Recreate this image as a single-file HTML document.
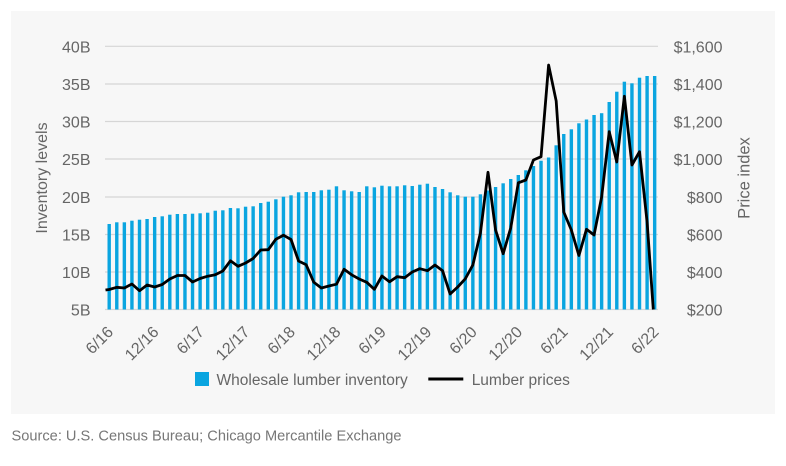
<!DOCTYPE html>
<html><head><meta charset="utf-8"><style>
html,body{margin:0;padding:0;background:#fff;}
svg{display:block;}
text{font-family:"Liberation Sans",sans-serif;fill:#666;}
</style></head><body>
<svg width="786" height="466" viewBox="0 0 786 466" xmlns="http://www.w3.org/2000/svg">
<rect x="0" y="0" width="786" height="466" fill="#fff"/>
<rect x="11" y="11" width="764" height="403" fill="#f7f7f7"/>
<g stroke="#d6d6d6" stroke-width="1.2">
<line x1="105" y1="46.3" x2="658" y2="46.3"/>
<line x1="105" y1="84" x2="658" y2="84"/>
<line x1="105" y1="121.5" x2="658" y2="121.5"/>
<line x1="105" y1="159" x2="658" y2="159"/>
<line x1="105" y1="197" x2="658" y2="197"/>
<line x1="105" y1="234.5" x2="658" y2="234.5"/>
<line x1="105" y1="272" x2="658" y2="272"/>
<line x1="105" y1="309.5" x2="658" y2="309.5"/>
</g>
<g fill="#0aa5e0">
<rect x="107.50" y="224" width="3.4" height="85.5"/>
<rect x="115.08" y="222.3" width="3.4" height="87.2"/>
<rect x="122.65" y="222.3" width="3.4" height="87.2"/>
<rect x="130.23" y="220.7" width="3.4" height="88.8"/>
<rect x="137.80" y="219.7" width="3.4" height="89.8"/>
<rect x="145.38" y="219" width="3.4" height="90.5"/>
<rect x="152.96" y="217" width="3.4" height="92.5"/>
<rect x="160.53" y="216.3" width="3.4" height="93.2"/>
<rect x="168.11" y="214.7" width="3.4" height="94.8"/>
<rect x="175.68" y="214" width="3.4" height="95.5"/>
<rect x="183.26" y="214" width="3.4" height="95.5"/>
<rect x="190.84" y="213.7" width="3.4" height="95.8"/>
<rect x="198.41" y="213.3" width="3.4" height="96.2"/>
<rect x="205.99" y="212.7" width="3.4" height="96.8"/>
<rect x="213.56" y="210.7" width="3.4" height="98.8"/>
<rect x="221.14" y="210.3" width="3.4" height="99.2"/>
<rect x="228.72" y="208" width="3.4" height="101.5"/>
<rect x="236.29" y="208.3" width="3.4" height="101.2"/>
<rect x="243.87" y="206.7" width="3.4" height="102.8"/>
<rect x="251.44" y="206.3" width="3.4" height="103.2"/>
<rect x="259.02" y="203" width="3.4" height="106.5"/>
<rect x="266.60" y="201.7" width="3.4" height="107.8"/>
<rect x="274.17" y="199.3" width="3.4" height="110.2"/>
<rect x="281.75" y="196.7" width="3.4" height="112.8"/>
<rect x="289.32" y="195.3" width="3.4" height="114.2"/>
<rect x="296.90" y="192.3" width="3.4" height="117.2"/>
<rect x="304.48" y="192" width="3.4" height="117.5"/>
<rect x="312.05" y="192" width="3.4" height="117.5"/>
<rect x="319.63" y="190.3" width="3.4" height="119.2"/>
<rect x="327.20" y="189.7" width="3.4" height="119.8"/>
<rect x="334.78" y="186.3" width="3.4" height="123.2"/>
<rect x="342.36" y="190.3" width="3.4" height="119.2"/>
<rect x="349.93" y="191.3" width="3.4" height="118.2"/>
<rect x="357.51" y="192" width="3.4" height="117.5"/>
<rect x="365.08" y="186.3" width="3.4" height="123.2"/>
<rect x="372.66" y="187.3" width="3.4" height="122.2"/>
<rect x="380.24" y="185.7" width="3.4" height="123.8"/>
<rect x="387.81" y="186.3" width="3.4" height="123.2"/>
<rect x="395.39" y="186.3" width="3.4" height="123.2"/>
<rect x="402.96" y="185.3" width="3.4" height="124.2"/>
<rect x="410.54" y="186" width="3.4" height="123.5"/>
<rect x="418.12" y="184.7" width="3.4" height="124.8"/>
<rect x="425.69" y="183.7" width="3.4" height="125.8"/>
<rect x="433.27" y="187" width="3.4" height="122.5"/>
<rect x="440.84" y="189" width="3.4" height="120.5"/>
<rect x="448.42" y="192.3" width="3.4" height="117.2"/>
<rect x="456.00" y="195.3" width="3.4" height="114.2"/>
<rect x="463.57" y="196.7" width="3.4" height="112.8"/>
<rect x="471.15" y="196.7" width="3.4" height="112.8"/>
<rect x="478.72" y="194.3" width="3.4" height="115.2"/>
<rect x="486.30" y="190.5" width="3.4" height="119"/>
<rect x="493.88" y="187" width="3.4" height="122.5"/>
<rect x="501.45" y="183.3" width="3.4" height="126.2"/>
<rect x="509.03" y="179" width="3.4" height="130.5"/>
<rect x="516.60" y="175" width="3.4" height="134.5"/>
<rect x="524.18" y="170.3" width="3.4" height="139.2"/>
<rect x="531.76" y="166" width="3.4" height="143.5"/>
<rect x="539.33" y="160.7" width="3.4" height="148.8"/>
<rect x="546.91" y="157.5" width="3.4" height="152"/>
<rect x="554.48" y="145.3" width="3.4" height="164.2"/>
<rect x="562.06" y="134" width="3.4" height="175.5"/>
<rect x="569.64" y="129.3" width="3.4" height="180.2"/>
<rect x="577.21" y="123.3" width="3.4" height="186.2"/>
<rect x="584.79" y="119.5" width="3.4" height="190"/>
<rect x="592.36" y="115" width="3.4" height="194.5"/>
<rect x="599.94" y="113.2" width="3.4" height="196.3"/>
<rect x="607.52" y="102" width="3.4" height="207.5"/>
<rect x="615.09" y="91.7" width="3.4" height="217.8"/>
<rect x="622.67" y="81.7" width="3.4" height="227.8"/>
<rect x="630.24" y="83.3" width="3.4" height="226.2"/>
<rect x="637.82" y="77.7" width="3.4" height="231.8"/>
<rect x="645.40" y="76" width="3.4" height="233.5"/>
<rect x="652.97" y="76" width="3.4" height="233.5"/>
</g>
<polyline fill="none" stroke="#000" stroke-width="2.8" stroke-linejoin="round" points="105.5,290 109.2,289.5 116.78,287.3 124.35,288 131.93,284 139.5,290.7 147.08,285 154.66,287 162.23,284.5 169.81,279 177.38,275.5 184.96,275.5 192.54,282 200.11,278.5 207.69,276.2 215.26,274.7 222.84,271 230.42,260.8 237.99,266.3 245.57,263 253.14,258.5 260.72,250 268.3,249.7 275.87,239.2 283.45,235.2 291.02,239.5 298.6,261 306.18,264.8 313.75,282.2 321.33,288 328.9,286 336.48,284.2 344.06,269.2 351.63,274.8 359.21,279 366.78,282.3 374.36,289.3 381.94,276 389.51,281.8 397.09,276.7 404.66,277.7 412.24,272 419.82,268.7 427.39,270.7 434.97,265 442.54,270.7 450.12,294 457.7,287 465.27,278.8 472.85,265 480.42,233 488,172.3 495.58,230 503.15,253.7 510.73,228 518.3,182.8 525.88,180 533.46,160 541.03,156.7 548.61,65 556.18,101 563.76,212 571.34,230 578.91,255.5 586.49,229.3 594.06,235 601.64,197 609.22,131.7 616.79,162 624.37,96.3 631.94,165 639.52,151.7 647.1,222 653.3,309.5"/>
<g font-size="16" text-anchor="end">
<text x="90.5" y="52.3">40B</text>
<text x="90.5" y="90">35B</text>
<text x="90.5" y="127.5">30B</text>
<text x="90.5" y="165">25B</text>
<text x="90.5" y="203">20B</text>
<text x="90.5" y="240.5">15B</text>
<text x="90.5" y="278">10B</text>
<text x="90.5" y="315.5">5B</text>
<text x="722.5" y="52.3">$1,600</text>
<text x="722.5" y="90">$1,400</text>
<text x="722.5" y="127.5">$1,200</text>
<text x="722.5" y="165">$1,000</text>
<text x="722.5" y="203">$800</text>
<text x="722.5" y="240.5">$600</text>
<text x="722.5" y="278">$400</text>
<text x="722.5" y="315.5">$200</text>
</g>
<g font-size="16" text-anchor="end">
<text transform="translate(114.2,333) rotate(-45)">6/16</text>
<text transform="translate(159.7,333) rotate(-45)">12/16</text>
<text transform="translate(205.1,333) rotate(-45)">6/17</text>
<text transform="translate(250.6,333) rotate(-45)">12/17</text>
<text transform="translate(296,333) rotate(-45)">6/18</text>
<text transform="translate(341.5,333) rotate(-45)">12/18</text>
<text transform="translate(386.9,333) rotate(-45)">6/19</text>
<text transform="translate(432.4,333) rotate(-45)">12/19</text>
<text transform="translate(477.9,333) rotate(-45)">6/20</text>
<text transform="translate(523.3,333) rotate(-45)">12/20</text>
<text transform="translate(568.8,333) rotate(-45)">6/21</text>
<text transform="translate(614.2,333) rotate(-45)">12/21</text>
<text transform="translate(659.7,333) rotate(-45)">6/22</text>
</g>
<text font-size="16" text-anchor="middle" transform="translate(47,178) rotate(-90)">Inventory levels</text>
<text font-size="16.5" text-anchor="middle" transform="translate(749.5,178) rotate(-90)">Price index</text>
<rect x="195" y="372" width="14" height="14" fill="#0aa5e0"/>
<text x="216.5" y="385" font-size="15.5">Wholesale lumber inventory</text>
<line x1="428.3" y1="379" x2="463.3" y2="379" stroke="#000" stroke-width="3"/>
<text x="471.7" y="385" font-size="15.5">Lumber prices</text>
<text x="11.5" y="440.5" font-size="15" style="fill:#777" textLength="390" lengthAdjust="spacingAndGlyphs">Source: U.S. Census Bureau; Chicago Mercantile Exchange</text>
</svg>
</body></html>
